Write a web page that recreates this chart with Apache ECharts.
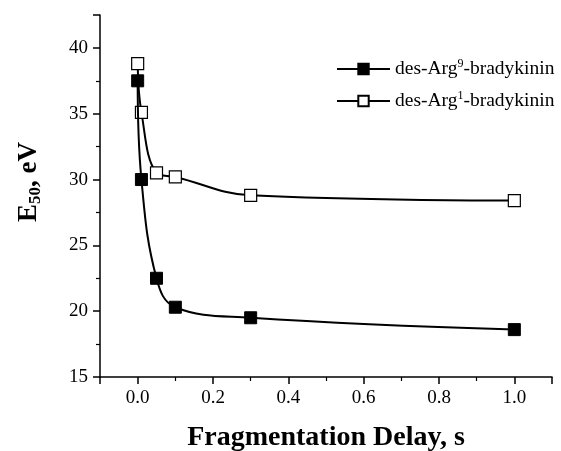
<!DOCTYPE html>
<html>
<head>
<meta charset="utf-8">
<script src="https://cdn.jsdelivr.net/npm/echarts@6/dist/echarts.min.js"></script>
<style>
html,body{margin:0;padding:0;background:#fff;}
#c{width:561px;height:451px;}
</style>
</head>
<body>
<div id="c"></div>
<script>
// Data
const delays = [0, 0.01, 0.05, 0.1, 0.3, 1.0];
const arg9Values = [37.5, 30.0, 22.5, 20.3, 19.5, 18.6];
const arg1Values = [38.8, 35.1, 30.5, 30.2, 28.8, 28.4];
const seriesNames = ['des-Arg9-bradykinin', 'des-Arg1-bradykinin'];
const legendParts = {
  'des-Arg9-bradykinin': ['des-Arg', '9', '-bradykinin'],
  'des-Arg1-bradykinin': ['des-Arg', '1', '-bradykinin']
};
const xTitle = 'Fragmentation Delay, s';

const FONT = '"Liberation Serif", "Times New Roman", serif';

function pairs(xs, ys) { return xs.map((x, i) => [x, ys[i]]); }

const chart = echarts.init(document.getElementById('c'), null, {renderer: 'canvas'});
chart.setOption({
  backgroundColor: '#fff',
  animation: false,
  grid: {left: 100, right: 9, top: 15, bottom: 74, containLabel: false, outerBoundsMode: 'none'},
  legend: {
    orient: 'vertical',
    left: 336,
    top: 58,
    padding: 0,
    itemGap: 11,
    itemWidth: 53,
    itemHeight: 13,
    data: seriesNames,
    formatter: function (name) {
      const p = legendParts[name];
      return '{n|' + p[0] + '}{s|' + p[1] + '}{n|' + p[2] + '}';
    },
    textStyle: {
      fontFamily: FONT,
      color: '#000',
      rich: {
        n: {fontFamily: FONT, fontSize: 19.5, color: '#000', lineHeight: 22},
        s: {fontFamily: FONT, fontSize: 12, color: '#000', verticalAlign: 'top', lineHeight: 12}
      }
    }
  },
  xAxis: {
    type: 'value',
    min: -0.1,
    max: 1.1,
    splitNumber: 6,
    name: xTitle,
    nameLocation: 'middle',
    nameGap: 47,
    nameTextStyle: {fontFamily: FONT, fontSize: 28, fontWeight: 'bold', color: '#000'},
    axisLine: {onZero: false, lineStyle: {color: '#000', width: 1.5}},
    axisTick: {show: true, inside: false, length: 7, lineStyle: {color: '#000', width: 1.5}},
    minorTick: {show: true, splitNumber: 2, length: 4, lineStyle: {color: '#000', width: 1.2}},
    splitLine: {show: false},
    axisLabel: {
      fontFamily: FONT, fontSize: 19, color: '#000', margin: 12,
      showMinLabel: false, showMaxLabel: false,
      formatter: v => v.toFixed(1)
    }
  },
  yAxis: {
    type: 'value',
    min: 15,
    max: 42.5,
    splitNumber: 5,
    name: '{b|E}{sub|50}{b|, eV}',
    nameLocation: 'middle',
    nameGap: 56,
    nameRotate: 90,
    nameTextStyle: {
      fontFamily: FONT, fontSize: 27, fontWeight: 'bold', color: '#000',
      padding: [0, 0, 0, 28],
      rich: {
        b: {fontFamily: FONT, fontSize: 27, fontWeight: 'bold', color: '#000', lineHeight: 30},
        sub: {fontFamily: FONT, fontSize: 17, fontWeight: 'bold', color: '#000', verticalAlign: 'bottom', lineHeight: 17}
      }
    },
    axisLine: {onZero: false, lineStyle: {color: '#000', width: 1.5}},
    axisTick: {show: true, inside: false, length: 7, lineStyle: {color: '#000', width: 1.5}},
    minorTick: {show: true, splitNumber: 2, length: 4, lineStyle: {color: '#000', width: 1.2}},
    splitLine: {show: false},
    axisLabel: {
      fontFamily: FONT, fontSize: 19, color: '#000', margin: 12,
      showMaxLabel: false
    }
  },
  series: [
    {
      name: seriesNames[0],
      type: 'line',
      data: pairs(delays, arg9Values),
      smooth: 0.4,
      symbol: 'rect',
      symbolSize: 12,
      lineStyle: {color: '#000', width: 2},
      itemStyle: {color: '#000', borderColor: '#000', borderWidth: 1},
      z: 3
    },
    {
      name: seriesNames[1],
      type: 'line',
      data: pairs(delays, arg1Values),
      smooth: 0.4,
      symbol: 'rect',
      symbolSize: 12,
      lineStyle: {color: '#000', width: 2},
      itemStyle: {color: '#fff', borderColor: '#000', borderWidth: 1.2},
      z: 2
    }
  ]
});
</script>
</body>
</html>
